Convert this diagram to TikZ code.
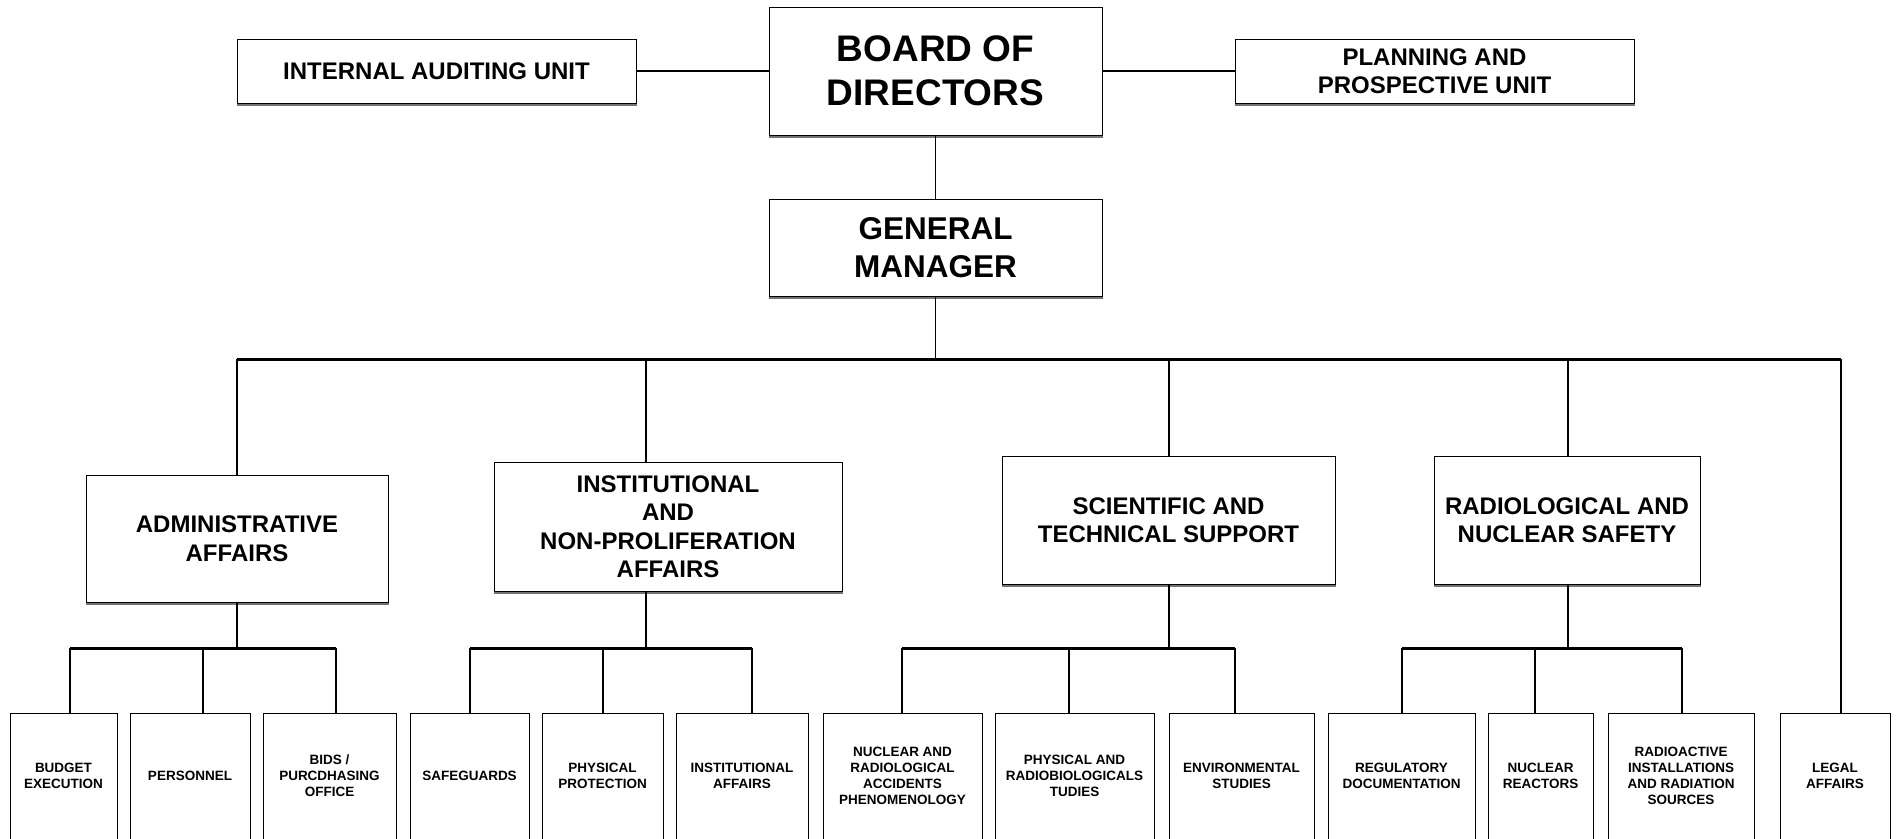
\documentclass[tikz,border=0pt]{standalone}
\usepackage{fontspec}
\setmainfont{Liberation Sans}
\begin{document}
\begin{tikzpicture}[x=1pt,y=-1pt,
  box/.style={draw, line width=1pt, fill=white, align=center, inner sep=0pt},
  huge/.style={box, font=\fontsize{37}{44}\selectfont\bfseries},
  big/.style={box, font=\fontsize{31.5}{38}\selectfont\bfseries},
  mid/.style={box, font=\fontsize{24}{28.5}\selectfont\bfseries},
  leaf/.style={box, minimum height=126pt, font=\fontsize{13.5}{16}\selectfont\bfseries},
  wire/.style={line width=1.4pt},
  sidewire/.style={line width=2.4pt},
  bus/.style={line width=3pt},
  shadowline/.style={draw=black!55, line width=2pt}]
\useasboundingbox (0,0) rectangle (1903,838);

% top level
\node[huge, minimum width=333pt, minimum height=128pt] (board) at (935.5,71) {BOARD OF\\DIRECTORS};
\node[mid, minimum width=399pt, minimum height=64pt] (audit) at (436.5,71) {INTERNAL AUDITING UNIT};
\node[mid, minimum width=399pt, minimum height=64pt] (plan) at (1434.5,71) {PLANNING AND\\PROSPECTIVE UNIT};
\node[big, minimum width=333pt, minimum height=97pt] (gm) at (935.5,247.5) {GENERAL\\MANAGER};

% departments
\node[mid, minimum width=302pt, minimum height=127pt] (admin) at (237,538.5) {ADMINISTRATIVE\\AFFAIRS};
\node[mid, minimum width=348pt, minimum height=129pt] (inst) at (668,526.5) {INSTITUTIONAL\\AND\\NON-PROLIFERATION\\AFFAIRS};
\node[mid, minimum width=333pt, minimum height=128pt] (sci) at (1168.5,520) {SCIENTIFIC AND\\TECHNICAL SUPPORT};
\node[mid, minimum width=266pt, minimum height=128pt] (rad) at (1567,520) {RADIOLOGICAL AND\\NUCLEAR SAFETY};

\foreach \n in {board,audit,plan,gm,admin,inst,sci,rad}
  \draw[shadowline] ([yshift=-1.5pt]\n.south west) -- ([yshift=-1.5pt]\n.south east);

% units
\foreach \n/\x/\w/\t in {
  budget/63.5/107/{BUDGET\\EXECUTION},
  pers/190/120/{PERSONNEL},
  bids/329.5/133/{BIDS /\\PURCDHASING\\OFFICE},
  safe/469.5/119/{SAFEGUARDS},
  phys/602.5/121/{PHYSICAL\\PROTECTION},
  instaff/742/132/{INSTITUTIONAL\\AFFAIRS},
  acc/902.5/159/{NUCLEAR AND\\RADIOLOGICAL\\ACCIDENTS\\PHENOMENOLOGY},
  radbio/1074.5/159/{PHYSICAL AND\\RADIOBIOLOGICALS\\TUDIES},
  env/1241.5/145/{ENVIRONMENTAL\\STUDIES},
  regdoc/1401.5/147/{REGULATORY\\DOCUMENTATION},
  reac/1540.5/105/{NUCLEAR\\REACTORS},
  src/1681/146/{RADIOACTIVE\\INSTALLATIONS\\AND RADIATION\\SOURCES},
  legal/1835/110/{LEGAL\\AFFAIRS}}
  \node[leaf, minimum width=\w pt] (\n) at (\x,776) {\t};

% board links
\draw[sidewire] (audit.east) -- (board.west);
\draw[sidewire] (board.east) -- (plan.west);
\draw[wire] (board.south) -- (gm.north);

% main bus
\coordinate (bA) at (237,359);
\coordinate (bI) at (646,359);
\coordinate (bG) at (935.5,359);
\coordinate (bS) at (1169,359);
\coordinate (bR) at (1568,359);
\coordinate (bL) at (1841,359);
\draw[wire] (gm.south) -- (bG);
\draw[bus] (bA) -- (bL);
\draw[wire] (bA) -- (admin.north);
\draw[wire] (bI) -- (bI |- inst.north);
\draw[wire] (bS) -- (bS |- sci.north);
\draw[wire] (bR) -- (bR |- rad.north);
\draw[wire] (bL) -- (bL |- legal.north);

% department sub-buses
\coordinate (sA) at (237,648);
\coordinate (sI) at (646,648);
\coordinate (sS) at (1169,648);
\coordinate (sR) at (1568,648);
\draw[wire] (admin.south) -- (sA);
\draw[wire] (inst.south -| sI) -- (sI);
\draw[wire] (sci.south -| sS) -- (sS);
\draw[wire] (rad.south -| sR) -- (sR);

\foreach \a/\b in {70/336, 470/752, 902/1235, 1402/1682}
  \draw[bus] (\a,648) -- (\b,648);

\foreach \x/\n in {70/budget, 203/pers, 336/bids, 470/safe, 603/phys, 752/instaff,
                   902/acc, 1069/radbio, 1235/env, 1402/regdoc, 1535/reac, 1682/src}
  \draw[wire] (\x,648) -- (\x,648 |- \n.north);
\end{tikzpicture}
\end{document}
